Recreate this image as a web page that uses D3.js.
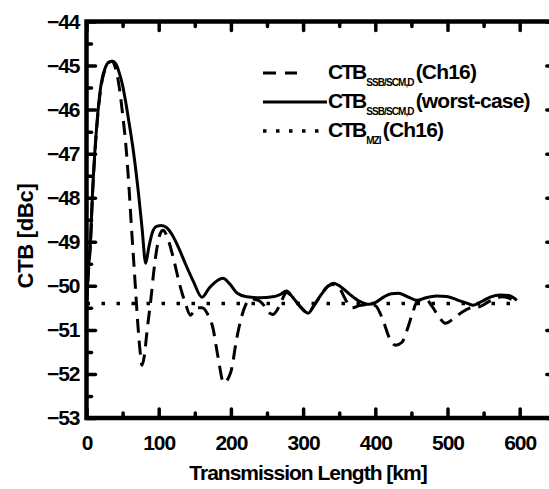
<!DOCTYPE html>
<html>
<head>
<meta charset="utf-8">
<script src="https://cdn.jsdelivr.net/npm/d3@7"></script>
<style>
  html, body { margin: 0; padding: 0; background: #fff; }
  svg text { font-family: "Liberation Sans", Arial, sans-serif; font-weight: bold; fill: #000; }
</style>
</head>
<body>
<svg id="chart" width="549" height="489"></svg>
<script>
// ---------- data ----------
const xTicks = [0, 100, 200, 300, 400, 500, 600];
const yTicks = [-53, -52, -51, -50, -49, -48, -47, -46, -45, -44];

const worstKm = [0, 3, 5.5, 8, 11, 14, 17, 21, 26, 31, 36, 41, 46, 50, 54, 58, 65, 72, 77, 82, 86, 91, 97, 104, 111, 119, 128, 137, 148, 160, 170, 178, 189, 198, 209, 222, 240, 258, 268, 277, 285, 295, 307, 315, 325, 335, 342, 352, 365, 378, 390, 400, 412, 422, 432, 445, 458, 470, 485, 499, 515, 525, 535, 548, 560, 573, 585, 596];
const worstVal = [-50.4, -49.55, -49.0, -48.0, -47.1, -46.4, -45.85, -45.35, -45.05, -44.92, -44.9, -44.97, -45.2, -45.45, -45.8, -46.2, -46.95, -47.9, -48.7, -49.49, -49.15, -48.8, -48.65, -48.63, -48.68, -48.85, -49.15, -49.5, -49.9, -50.26, -50.05, -49.92, -49.83, -49.95, -50.17, -50.25, -50.27, -50.25, -50.2, -50.12, -50.25, -50.45, -50.62, -50.45, -50.2, -50.0, -49.94, -50.02, -50.2, -50.35, -50.42, -50.38, -50.25, -50.18, -50.17, -50.25, -50.33, -50.27, -50.23, -50.24, -50.33, -50.38, -50.44, -50.35, -50.25, -50.21, -50.22, -50.33];

const ch16Km = [0, 3, 5.5, 8, 11, 14, 17, 21, 26, 31, 35, 40, 45, 50, 55, 59, 62, 65, 68, 71, 74, 77, 80, 84, 89, 93, 98, 102, 106, 112, 120, 130, 137, 144, 151, 160, 168, 175, 182, 190, 200, 208, 214, 220, 228, 238, 246, 252, 258, 264, 270, 277, 285, 295, 307, 315, 325, 335, 342, 352, 360, 368, 378, 390, 400, 410, 420, 428, 437, 444, 452, 458, 470, 478, 488, 497, 508, 520, 532, 545, 556, 565, 575, 585, 596];
const ch16Val = [-50.4, -49.6, -49.05, -48.05, -47.15, -46.45, -45.9, -45.4, -45.08, -44.93, -44.9, -45.05, -45.45, -46.1, -46.9, -47.8, -48.6, -49.35, -50.1, -50.85, -51.45, -51.8, -51.6, -51.0, -50.33, -49.7, -49.1, -48.82, -48.74, -48.9, -49.35, -50.03, -50.4, -50.67, -50.5, -50.5, -50.65, -50.95, -51.6, -52.2, -51.95, -51.2, -50.75, -50.45, -50.3, -50.33, -50.45, -50.6, -50.65, -50.55, -50.35, -50.15, -50.25, -50.45, -50.62, -50.45, -50.2, -50.0, -49.97, -50.1, -50.35, -50.5, -50.45, -50.42, -50.45, -50.75, -51.2, -51.35, -51.28, -51.0, -50.6, -50.35, -50.3, -50.45, -50.7, -50.85, -50.75, -50.6, -50.5, -50.47, -50.37, -50.3, -50.25, -50.28, -50.37];

const mziKm = [0, 600];
const mziVal = [-50.4, -50.4];

const seriesNames = ["(Ch16)", "(worst-case)", "(Ch16)"];
const seriesSubs = ["SSB/SCM,D", "SSB/SCM,D", "MZI"];

// ---------- layout ----------
const svg = d3.select("#chart");
const x = d3.scaleLinear().domain([0, 650]).range([86.5, 555.8]);
const y = d3.scaleLinear().domain([-53, -44]).range([418, 21.5]);

svg.append("defs").append("clipPath").attr("id", "clip")
  .append("rect").attr("x", x(0)).attr("y", y(-44))
  .attr("width", x(650) - x(0)).attr("height", y(-53) - y(-44));

const plot = svg.append("g").attr("clip-path", "url(#clip)");

const line = d3.line().x(d => x(d[0])).y(d => y(d[1])).curve(d3.curveMonotoneX);

plot.append("path").datum(d3.zip(mziKm, mziVal))
  .attr("d", line).attr("fill", "none").attr("stroke", "#000")
  .attr("stroke-width", 3.5).attr("stroke-dasharray", "3.5,11.5");

plot.append("path").datum(d3.zip(ch16Km, ch16Val))
  .attr("d", line).attr("fill", "none").attr("stroke", "#000")
  .attr("stroke-width", 3).attr("stroke-dasharray", "14,8");

plot.append("path").datum(d3.zip(worstKm, worstVal))
  .attr("d", line).attr("fill", "none").attr("stroke", "#000")
  .attr("stroke-width", 3).attr("stroke-linejoin", "round");

// ---------- axes ----------
function styleAxis(g) {
  g.select(".domain").remove();
  g.selectAll(".tick line").attr("stroke", "#000").attr("stroke-width", 3.5).attr("stroke-linecap", "round");
  g.selectAll(".tick text").attr("font-size", 21).attr("letter-spacing", -1).attr("fill", "#000")
    .attr("font-family", "'Liberation Sans', Arial, sans-serif").attr("font-weight", "bold");
}
const xMinor = d3.range(50, 650, 100);
const yMinor = d3.range(-52.5, -44, 1);

// bottom
svg.append("g").attr("transform", `translate(0,${y(-53)})`)
  .call(d3.axisBottom(x).tickValues(xTicks).tickSize(-9).tickPadding(17).tickFormat(d3.format("d")))
  .call(styleAxis);
svg.append("g").attr("transform", `translate(0,${y(-53)})`)
  .call(d3.axisBottom(x).tickValues(xMinor).tickSize(-5).tickFormat(""))
  .call(styleAxis);
// top
svg.append("g").attr("transform", `translate(0,${y(-44)})`)
  .call(d3.axisTop(x).tickValues(xTicks).tickSize(-9).tickFormat(""))
  .call(styleAxis);
svg.append("g").attr("transform", `translate(0,${y(-44)})`)
  .call(d3.axisTop(x).tickValues(xMinor).tickSize(-5).tickFormat(""))
  .call(styleAxis);
// left
svg.append("g").attr("transform", `translate(${x(0)},0)`)
  .call(d3.axisLeft(y).tickValues(yTicks).tickSize(-9).tickPadding(7).tickFormat(d3.format("d")))
  .call(styleAxis);
svg.append("g").attr("transform", `translate(${x(0)},0)`)
  .call(d3.axisLeft(y).tickValues(yMinor).tickSize(-5).tickFormat(""))
  .call(styleAxis);
// right
svg.append("g").attr("transform", `translate(${x(650)},0)`)
  .call(d3.axisRight(y).tickValues(yTicks).tickSize(-9).tickFormat(""))
  .call(styleAxis);
svg.append("g").attr("transform", `translate(${x(650)},0)`)
  .call(d3.axisRight(y).tickValues(yMinor).tickSize(-5).tickFormat(""))
  .call(styleAxis);

// frame
svg.append("rect").attr("x", x(0)).attr("y", y(-44))
  .attr("width", x(650) - x(0)).attr("height", y(-53) - y(-44))
  .attr("fill", "none").attr("stroke", "#000").attr("stroke-width", 4.5);

// axis titles
svg.append("text").attr("x", 308).attr("y", 480).attr("text-anchor", "middle")
  .attr("font-size", 21).attr("letter-spacing", -1).text("Transmission Length [km]");
svg.append("text").attr("transform", "translate(33,236) rotate(-90)").attr("text-anchor", "middle")
  .attr("font-size", 22).attr("letter-spacing", -0.3).text("CTB [dBc]");

// ---------- legend ----------
const legend = svg.append("g");
const rows = [
  { base: 79, dash: "13,9", x2: 297, sw: 3 },
  { base: 108, dash: null, x2: 327, sw: 3 },
  { base: 137, dash: "3.5,9.5", x2: 325, sw: 3.5 }
];
rows.forEach((r, i) => {
  const ln = legend.append("line").attr("x1", 263).attr("x2", r.x2)
    .attr("y1", r.base - 6).attr("y2", r.base - 6)
    .attr("stroke", "#000").attr("stroke-width", r.sw);
  if (r.dash) ln.attr("stroke-dasharray", r.dash);
  const t1 = legend.append("text").attr("x", 328).attr("y", r.base)
    .attr("font-size", 21).attr("letter-spacing", -2).text("CTB");
  const w1 = t1.node().getComputedTextLength();
  const t2 = legend.append("text").attr("x", 328 + w1 + 1).attr("y", r.base + 7)
    .attr("font-size", 10).attr("letter-spacing", -0.9).text(seriesSubs[i]);
  const w2 = t2.node().getComputedTextLength();
  legend.append("text").attr("x", 328 + w1 + 1 + w2 + 2).attr("y", r.base)
    .attr("font-size", 21).attr("letter-spacing", -0.8).text(seriesNames[i]);
});
</script>
</body>
</html>
